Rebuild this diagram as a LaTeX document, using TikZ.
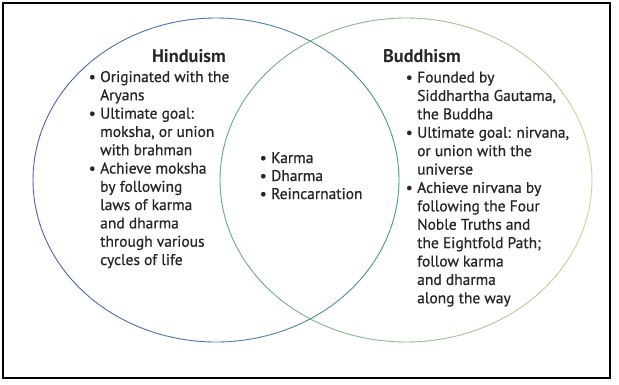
\documentclass[tikz,border=0pt]{standalone}
\usepackage{fontspec}
\setmainfont{PT Sans}[BoldFont={PT Sans Bold}]
\newfontfamily\bodyfont{PT Sans}[FakeBold=0.7]
\begin{document}
\begin{tikzpicture}[x=1pt,y=-1pt,
  txt/.style={anchor=base west,inner sep=0pt,font=\bodyfont\fontsize{15.5}{18}\selectfont,text=black!85},
  bul/.style={anchor=base east,inner sep=0pt,font=\bodyfont\fontsize{15.5}{18}\selectfont,text=black!85},
  title/.style={anchor=base,inner sep=0pt,font=\bfseries\fontsize{18.3}{20}\selectfont,text=black!85}]
\definecolor{lblue}{RGB}{75,100,170}
\definecolor{lteal}{RGB}{75,150,160}
\definecolor{rteal}{RGB}{95,170,135}
\definecolor{ryel}{RGB}{205,212,150}
\useasboundingbox (0,0) rectangle (619,384);
\draw[line width=1.3pt] (3,3) rectangle (610,378);
% left ellipse (Hinduism)
\foreach \a in {0,4,...,356}{
  \pgfmathtruncatemacro\m{50+50*cos(\a+2)}
  \draw[color=lteal!\m!lblue,line width=0.9pt,line cap=round] (216,180) ++(\a:183 and 162) arc[start angle=\a,end angle=\a+4,x radius=183,y radius=162];
}
% right ellipse (Buddhism)
\foreach \a in {0,4,...,356}{
  \pgfmathtruncatemacro\m{50+50*cos(\a+2)}
  \draw[color=ryel!\m!rteal,line width=0.9pt,line cap=round] (406,180) ++(\a:186 and 162) arc[start angle=\a,end angle=\a+4,x radius=186,y radius=162];
}
% titles
\node[title] (hin) at (189,62) {Hinduism};
\node[title] (bud) at (422,62) {Buddhism};
% Hinduism list
\foreach \t [count=\i] in {Originated with the,Aryans,Ultimate goal:,{moksha, or union},with brahman,Achieve moksha,by following,laws of karma,and dharma,through various,cycles of life}{
  \node[txt] (h\i) at (100,82+18.3*\i-18.3) {\t};
}
\foreach \i in {1,3,6}{\node[bul] (hb\i) at ([xshift=-4pt]h\i.base west) {\textbullet};}
% Buddhism list
\foreach \t [count=\i] in {Founded by,{Siddhartha Gautama,},the Buddha,{Ultimate goal: nirvana,},or union with the,universe,Achieve nirvana by,following the Four,Noble Truths and,the Eightfold Path;,follow karma,and dharma,along the way}{
  \node[txt] (b\i) at (417,82.5+18.4*\i-18.4) {\t};
}
\foreach \i in {1,4,7}{\node[bul] (bb\i) at ([xshift=-4pt]b\i.base west) {\textbullet};}
% common
\foreach \t [count=\i] in {Karma,Dharma,Reincarnation}{
  \node[txt] (c\i) at (271,163+18*\i-18) {\t};
  \node[bul] (cb\i) at ([xshift=-4pt]c\i.base west) {\textbullet};
}
\end{tikzpicture}
\end{document}
